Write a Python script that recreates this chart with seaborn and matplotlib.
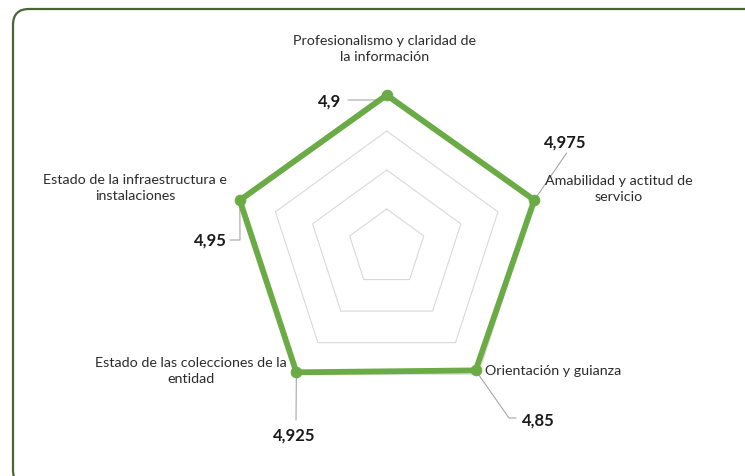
import numpy as np
import pandas as pd
import matplotlib
matplotlib.use("Agg")
import matplotlib.pyplot as plt
import seaborn as sns
from matplotlib.patches import FancyBboxPatch
from matplotlib.transforms import IdentityTransform

# ---------------- data ----------------
categories = [
    "Profesionalismo y claridad de\nla información",
    "Amabilidad y actitud de\nservicio",
    "Orientación y guianza",
    "Estado de las colecciones de la\nentidad",
    "Estado de la infraestructura e\ninstalaciones",
]
values = [4.9, 4.975, 4.85, 4.925, 4.95]
value_labels = ["4,9", "4,975", "4,85", "4,925", "4,95"]
ring_levels = [1.25, 2.5, 3.75, 5.0]
axis_max = 5.0

# ---------------- layout (pixels, top-left origin) ----------------
W, H, DPI = 745, 476, 100
CX, CY = 386.7, 248.0          # radar centre
R_PX = 156.0                   # radius of axis_max
S = R_PX / axis_max            # px per unit

cat_pos = [(385, 49, "center"), (619, 189, "center"), (485, 371, "left"),
           (191, 371, "center"), (135, 188, "center")]
val_pos = [(330, 102), (565, 143), (538, 421), (294, 436), (210, 241)]
leaders = [[(382, 100), (348, 100)], [(566.7, 153)], [(509, 418), (516, 418)],
           [(296, 420)], [(240, 240), (230, 240)]]

def px(x, y):
    return (x - CX) / S, (CY - y) / S

GREEN = "#6aab45"
GRID = "#d9d9d9"
LEAD = "#a6a6a6"

sns.set_theme(style="white")
plt.rcParams["font.family"] = ["Lato", "DejaVu Sans"]

fig = plt.figure(figsize=(W / DPI, H / DPI), dpi=DPI)
ax = fig.add_axes([0, 0, 1, 1])

n = len(categories)
theta = np.arange(n) * 2 * np.pi / n

# grid rings (pentagons)
for lev in ring_levels:
    t = np.append(theta, theta[0])
    ax.plot(lev * np.sin(t), lev * np.cos(t), color=GRID, lw=0.8, zorder=1)

# data polygon
vals = np.array(values)
df = pd.DataFrame({
    "x": np.append(vals * np.sin(theta), vals[0] * np.sin(theta[0])),
    "y": np.append(vals * np.cos(theta), vals[0] * np.cos(theta[0])),
})
sns.lineplot(data=df, x="x", y="y", sort=False, estimator=None, ax=ax,
             color=GREEN, lw=4.2, zorder=3, legend=False)
sns.scatterplot(data=df.iloc[:n], x="x", y="y", ax=ax, color=GREEN, s=60,
                edgecolor=GREEN, zorder=4, legend=False)
ax.set_xlim(-CX / S, (W - CX) / S)
ax.set_ylim(-(H - CY) / S, CY / S)
ax.axis("off")

# category labels
for lab, (x, y, ha) in zip(categories, cat_pos):
    ax.text(*px(x, y), lab, ha=ha, va="center", fontsize=10.3, color="#2b2b2b",
            linespacing=1.35, zorder=5)

# value labels with leader lines
for i in range(n):
    vx, vy = vals[i] * np.sin(theta[i]), vals[i] * np.cos(theta[i])
    pts = [(vx, vy)] + [px(a, b) for a, b in leaders[i]]
    xs, ys = zip(*pts)
    ax.plot(xs, ys, color=LEAD, lw=0.8, zorder=2)
    ax.text(*px(*val_pos[i]), value_labels[i], ha="center", va="center",
            fontsize=12, fontweight="bold", color="#1a1a1a", zorder=5)

# rounded border
border = FancyBboxPatch((13, -10), 760, 476 - 9 + 10,
                        boxstyle="round,pad=0,rounding_size=16",
                        transform=IdentityTransform(), fill=False,
                        edgecolor="#4a6634", lw=1.6, zorder=0)
fig.patches.append(border)

fig.savefig("out.png", dpi=DPI)
